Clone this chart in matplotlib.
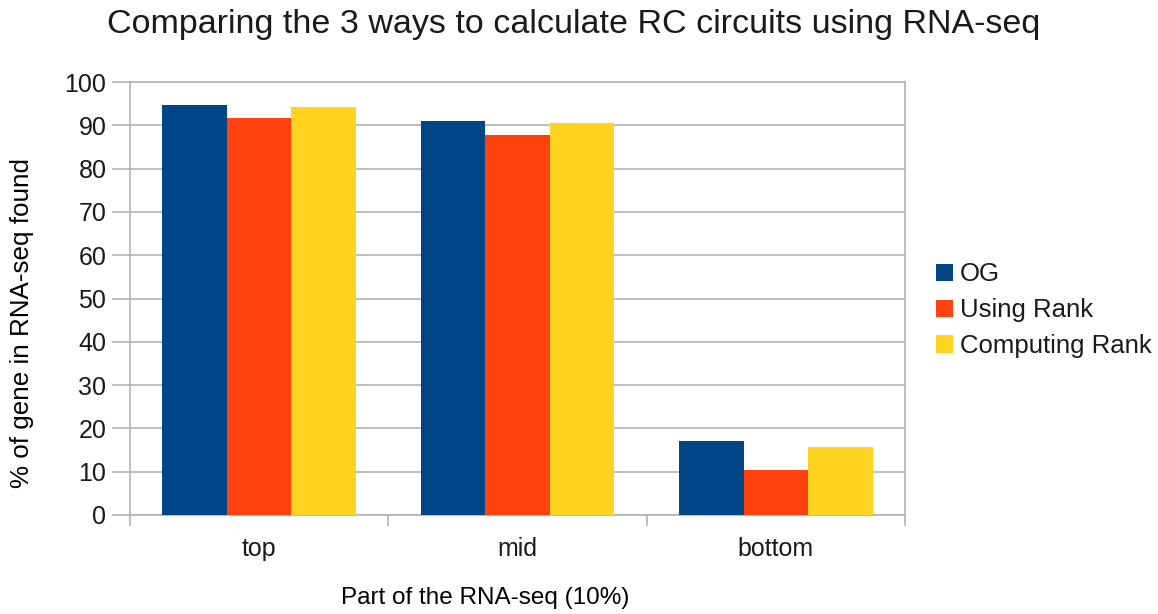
import numpy as np
import matplotlib.pyplot as plt

categories = ["top", "mid", "bottom"]
series = ["OG", "Using Rank", "Computing Rank"]
og = [94.7, 91.0, 17.0]
using_rank = [91.7, 87.8, 10.3]
computing_rank = [94.2, 90.5, 15.6]
colors = ["#004586", "#ff420e", "#ffd320"]

plt.rcParams['font.family'] = ['Liberation Sans', 'DejaVu Sans']
plt.rcParams['text.color'] = '#1a1a1a'

fig = plt.figure(figsize=(11.58, 6.14), dpi=100)
ax = fig.add_axes([130 / 1158, 1 - 515 / 614, 775 / 1158, 433 / 614])

x = np.arange(len(categories))
w = 0.25
for i, (vals, name) in enumerate(zip([og, using_rank, computing_rank], series)):
    ax.bar(x + (i - 1) * w, vals, width=w, color=colors[i], label=name, zorder=3)

ax.set_xlim(-0.5, len(categories) - 0.5)
ax.set_ylim(0, 100)
ax.set_yticks(range(0, 101, 10))
ax.set_xticks(x)
ax.set_xticklabels(categories)
ax.set_xticks(np.arange(-0.5, len(categories), 1), minor=True)
ax.tick_params(axis='x', which='major', length=0, pad=16, labelsize=18, labelcolor='#1a1a1a')
ax.tick_params(axis='x', which='minor', length=8, color='#b3b3b3', width=1.2)
ax.tick_params(axis='y', length=13, color='#b3b3b3', width=1.2, labelsize=18, pad=4,
               labelcolor='#1a1a1a')
ax.grid(axis='y', color='#b3b3b3', linewidth=1.2, zorder=0)
for s in ax.spines.values():
    s.set_color('#b3b3b3')
    s.set_linewidth(1.2)

ax.set_xlabel("Part of the RNA-seq (10%)", fontsize=17.5)
ax.set_ylabel("% of gene in RNA-seq found", fontsize=18.7)
ax.xaxis.set_label_coords(0.458, -(598 - 515) / 433)
ax.yaxis.set_label_coords(-(130 - 22) / 775, 0.443)
ax.xaxis.label.set_va('center')
ax.yaxis.label.set_va('center')
fig.text(0.4957, 1 - 24 / 614, "Comparing the 3 ways to calculate RC circuits using RNA-seq",
         ha='center', va='center', fontsize=24.5)

ax.legend(loc='center left', bbox_to_anchor=(1.04, 0.473), frameon=False,
          fontsize=18.5, handlelength=0.66, handleheight=0.66, handletextpad=0.27,
          labelspacing=0.46, borderpad=0, borderaxespad=0)

fig.savefig("out.png", dpi=100)
